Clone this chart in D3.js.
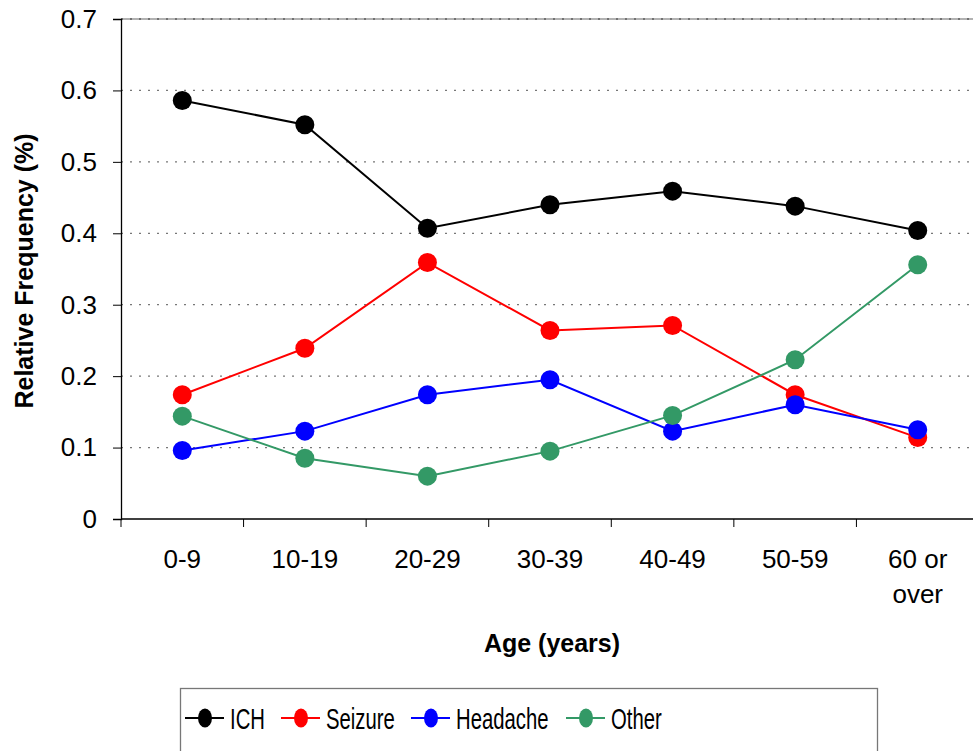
<!DOCTYPE html>
<html>
<head>
<meta charset="utf-8">
<script src="https://d3js.org/d3.v7.min.js"></script>
<style>
  body { margin: 0; background: #fff; }
  svg { display: block; font-family: "Liberation Sans", Arial, sans-serif; }
</style>
</head>
<body>
<div id="chart"></div>
<script>
// Data
var ages = ["0-9", "10-19", "20-29", "30-39", "40-49", "50-59", "60 or over"];
var ich      = [0.586, 0.552, 0.407, 0.440, 0.459, 0.438, 0.404];
var seizure  = [0.174, 0.239, 0.359, 0.264, 0.271, 0.174, 0.114];
var headache = [0.096, 0.123, 0.174, 0.195, 0.123, 0.160, 0.125];
var other    = [0.144, 0.085, 0.060, 0.095, 0.145, 0.223, 0.356];
var yTicks = [0, 0.1, 0.2, 0.3, 0.4, 0.5, 0.6, 0.7];

var seriesNames = ["ICH", "Seizure", "Headache", "Other"];
var seriesColors = ["#000000", "#ff0000", "#0000ff", "#339966"];
var seriesVals = [ich, seizure, headache, other];

var W = 973, H = 751;
var margin = {top: 19, right: -6, bottom: 232, left: 121};
var width = W - margin.left - margin.right,
    height = H - margin.top - margin.bottom;

var svg = d3.select("#chart").append("svg")
    .attr("width", W).attr("height", H);
var g = svg.append("g")
    .attr("transform", "translate(" + margin.left + "," + margin.top + ")");

var x = d3.scaleBand().domain(ages).range([0, width]);
var y = d3.scaleLinear().domain([0, 0.7]).range([height, 0]);

// plot area top border + gridlines
g.append("line").attr("x1", 0).attr("x2", width).attr("y1", y(0.7)).attr("y2", y(0.7))
  .attr("stroke", "#999").attr("stroke-width", 1.5);
g.selectAll(".grid").data(yTicks.slice(1)).enter().append("line")
  .attr("x1", 0).attr("x2", width)
  .attr("y1", function(d) { return y(d); })
  .attr("y2", function(d) { return y(d); })
  .attr("stroke", function(d, i) { return i == 6 ? "#333" : "#777"; })
  .attr("stroke-width", 1.2)
  .attr("stroke-dasharray", "2,7");

// y axis
var yAxis = g.append("g")
  .call(d3.axisLeft(y).tickValues(yTicks).tickFormat(function(d) { return d == 0 ? "0" : d3.format(".1f")(d); }).tickSize(8).tickPadding(16));
yAxis.selectAll("text").style("font-size", "26px").attr("fill", "#000");
yAxis.select(".domain").attr("stroke", "#000").attr("stroke-width", 1.3);

// x axis
var xAxis = g.append("g")
  .attr("transform", "translate(0," + height + ")");
xAxis.append("line").attr("x1", 0).attr("x2", width).attr("stroke", "#000").attr("stroke-width", 1.3);
xAxis.selectAll(".xt").data(d3.range(ages.length + 1)).enter().append("line")
  .attr("x1", function(i) { return i * x.bandwidth(); })
  .attr("x2", function(i) { return i * x.bandwidth(); })
  .attr("y1", 0).attr("y2", 8)
  .attr("stroke", "#000");
xAxis.selectAll(".xl").data(ages).enter().append("text")
  .attr("text-anchor", "middle")
  .attr("x", function(d) { return x(d) + x.bandwidth() / 2; })
  .style("font-size", "26px")
  .each(function(d) {
    var lines = d == "60 or over" ? ["60 or", "over"] : [d];
    var t = d3.select(this);
    lines.forEach(function(l, i) {
      t.append("tspan").attr("x", x(d) + x.bandwidth() / 2).attr("y", 49 + i * 35).text(l);
    });
  });

// axis titles
svg.append("text")
  .attr("transform", "rotate(-90)")
  .attr("x", -271)
  .attr("y", 33)
  .attr("text-anchor", "middle")
  .style("font-size", "25px").style("font-weight", "bold")
  .text("Relative Frequency (%)");
svg.append("text")
  .attr("x", 552).attr("y", 652)
  .attr("text-anchor", "middle")
  .style("font-size", "25px").style("font-weight", "bold")
  .text("Age (years)");

// lines and markers
var line = d3.line()
  .x(function(d, i) { return x(ages[i]) + x.bandwidth() / 2; })
  .y(function(d) { return y(d); });

seriesVals.forEach(function(vals, k) {
  g.append("path").datum(vals)
    .attr("d", line)
    .attr("fill", "none")
    .attr("stroke", seriesColors[k])
    .attr("stroke-width", 2);
});
seriesVals.forEach(function(vals, k) {
  g.selectAll(".m" + k).data(vals).enter().append("circle")
    .attr("cx", function(d, i) { return x(ages[i]) + x.bandwidth() / 2; })
    .attr("cy", function(d) { return y(d); })
    .attr("r", 9.5)
    .attr("fill", seriesColors[k]);
});

// legend
var legend = svg.append("g");
legend.append("rect")
  .attr("x", 180.5).attr("y", 688.5).attr("width", 697).attr("height", 80)
  .attr("fill", "#fff").attr("stroke", "#777").attr("stroke-width", 1.3);
var legX = [185, 281, 411, 566];
seriesNames.forEach(function(name, k) {
  var lg = legend.append("g").attr("transform", "translate(" + legX[k] + ",718)");
  lg.append("line").attr("x1", 0).attr("x2", 39).attr("stroke", seriesColors[k]).attr("stroke-width", 2);
  lg.append("ellipse").attr("cx", 20).attr("rx", 7).attr("ry", 9.5).attr("fill", seriesColors[k]);
  lg.append("text").attr("transform", "translate(45,11) scale(0.7,1)")
    .style("font-size", "29px").text(name);
});
</script>
</body>
</html>
